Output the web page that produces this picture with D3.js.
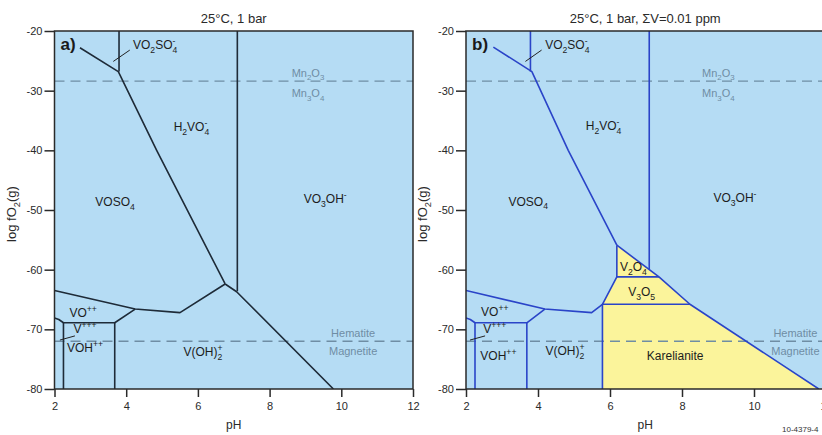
<!DOCTYPE html>
<html>
<head>
<meta charset="utf-8">
<script src="https://cdn.jsdelivr.net/npm/d3@7"></script>
<style>
  html, body { margin: 0; padding: 0; background: #fff; }
  svg { display: block; font-family: "Liberation Sans", Arial, sans-serif; }
</style>
</head>
<body>
<svg id="chart" width="822" height="435"></svg>
<script>
// Axis ranges and ticks
const phDomain = [2, 12];
const fo2Domain = [-80, -20];
const phTicks = [2, 4, 6, 8, 10, 12];
const fo2Ticks = [-20, -30, -40, -50, -60, -70, -80];

// Oxygen buffers (log fO2) drawn as dashed reference lines
const bufferMnO = -28.4;    // Mn2O3 / Mn3O4
const bufferHM = -72;       // Hematite / Magnetite

// Panel a) field boundaries, [pH, log fO2]
const boundariesA = [
  [[2.71, -22.8], [3.78, -26.8], [4.85, -40], [6.76, -62.4]],
  [[3.8, -20], [3.8, -26.8]],
  [[7.1, -20], [7.1, -63.6]],
  [[6.76, -62.4], [7.08, -63.7], [9.78, -80]],
  [[2, -63.5], [4.25, -66.6], [5.5, -67.2], [6.76, -62.4]],
  [[4.25, -66.6], [3.68, -68.9], [2.25, -68.9], [2.12, -68.35], [2, -68.1]],
  [[2.25, -68.9], [2.25, -80]],
  [[3.68, -68.9], [3.68, -80]]
];

// Panel b) field boundaries, sum V = 0.01 ppm
const boundariesB = [
  [[2.76, -22.7], [3.83, -26.8], [4.84, -40], [6.19, -55.9]],
  [[3.79, -20], [3.79, -26.8]],
  [[7.09, -20], [7.09, -60]],
  [[6.19, -55.9], [7.36, -61.2], [8.22, -65.8], [11.8, -80]],
  [[6.19, -55.9], [6.19, -61.2], [5.79, -65.8], [5.79, -80]],
  [[6.19, -61.2], [7.36, -61.2]],
  [[5.79, -65.8], [8.22, -65.8]],
  [[2, -63.5], [4.19, -66.6], [5.49, -67.2], [5.79, -65.8]],
  [[4.19, -66.6], [3.69, -68.9], [2.25, -68.9], [2.12, -68.35], [2, -68.1]],
  [[2.25, -68.9], [2.25, -80]],
  [[3.69, -68.9], [3.69, -80]]
];

// Stability field of solid vanadium oxides in panel b)
const solidFieldB = [
  [6.19, -55.9], [7.36, -61.2], [8.22, -65.8], [11.8, -80],
  [5.79, -80], [5.79, -65.8], [6.19, -61.2]
];

// Species labels: markup, pH, log fO2  ({x} subscript, {^x} superscript, {x|y} stacked)
const fieldLabelsA = [
  ["VO{2}SO{4|-}", 4.19, -22.3, "start"],
  ["H{2}VO{4|-}", 5.82, -36.1],
  ["VOSO{4}", 3.69, -48.7],
  ["VO{3}OH{^-}", 9.55, -48.2],
  ["VO{^++}", 2.8, -67.2],
  ["V{^+++}", 2.85, -70.0],
  ["VOH{^++}", 2.85, -73.2],
  ["V(OH){2|+}", 6.14, -73.8]
];
const fieldLabelsB = [
  ["VO{2}SO{4|-}", 4.2, -22.3, "start"],
  ["H{2}VO{4|-}", 5.82, -36.0],
  ["VOSO{4}", 3.73, -48.6],
  ["VO{3}OH{^-}", 9.47, -48.0],
  ["V{2}O{4}", 6.65, -59.6],
  ["V{3}O{5}", 6.88, -63.7],
  ["Karelianite", 7.81, -74.4],
  ["VO{^++}", 2.8, -67.1],
  ["V{^+++}", 2.8, -70.0],
  ["VOH{^++}", 2.9, -74.5],
  ["V(OH){2|+}", 4.75, -73.7]
];
const bufferLabelsA = [
  ["Mn{2}O{3}", 9.07, -27.0], ["Mn{3}O{4}", 9.07, -30.4],
  ["Hematite", 10.33, -70.6], ["Magnetite", 10.33, -73.6]
];
const bufferLabelsB = [
  ["Mn{2}O{3}", 9.01, -27.0], ["Mn{3}O{4}", 9.01, -30.4],
  ["Hematite", 11.15, -70.6], ["Magnetite", 11.15, -73.6]
];

// Short leader lines tying small labels to their fields
const leadersA = [
  [[3.64, -25.1], [4.1, -23.2]],
  [[2.15, -71.8], [2.57, -71.1]]
];
const leadersB = [
  [[3.65, -25.1], [4.1, -23.2]],
  [[2.11, -71.8], [2.53, -71.1]]
];

const titles = ["25°C, 1 bar", "25°C, 1 bar,  ΣV=0.01 ppm"];
const panelTags = ["a)", "b)"];

const svg = d3.select("#chart");
const FIELD_BLUE = "#b5dcf4";
const SOLID_YELLOW = "#fbf49b";
const BUFFER_COL = "#6f8da4";

// Writes chemical-formula markup into a <text> element
function formula(text, markup, size) {
  const re = /\{([^}]*)\}|([^{]+)/g;
  let cur = 0, pendingDx = 0, m;
  const sub = 0.32 * size, sup = -0.42 * size, small = 0.72 * size;
  while ((m = re.exec(markup))) {
    if (m[2] !== undefined) {
      text.append("tspan").attr("dy", -cur).attr("dx", pendingDx).text(m[2]);
      cur = 0; pendingDx = 0;
    } else {
      const body = m[1];
      if (body.startsWith("^")) {
        text.append("tspan").attr("font-size", small).attr("dy", sup - cur)
          .attr("dx", pendingDx).text(body.slice(1));
        cur = sup; pendingDx = 0;
      } else if (body.includes("|")) {
        const [lo, hi] = body.split("|");
        const a = text.append("tspan").attr("font-size", small).attr("dy", sub - cur)
          .attr("dx", pendingDx).text(lo);
        cur = sub;
        const wa = a.node().getComputedTextLength();
        const b = text.append("tspan").attr("font-size", small).attr("dy", sup - cur)
          .attr("dx", -wa).text(hi);
        cur = sup;
        const wb = b.node().getComputedTextLength();
        pendingDx = Math.max(0, wa - wb);
      } else {
        text.append("tspan").attr("font-size", small).attr("dy", sub - cur)
          .attr("dx", pendingDx).text(body);
        cur = sub; pendingDx = 0;
      }
    }
  }
}

function drawPanel(i, left, right, boundaries, fieldLabels, bufferLabels, leaders, lineColor, solid) {
  const top = 31, bottom = 389;
  const x = d3.scaleLinear().domain(phDomain).range([left, right]);
  const y = d3.scaleLinear().domain(fo2Domain).range([bottom, top]);
  const g = svg.append("g");
  const clipId = "plotclip" + i;
  svg.append("clipPath").attr("id", clipId).append("rect")
    .attr("x", left).attr("y", top).attr("width", right - left).attr("height", bottom - top);

  g.append("rect").attr("x", left).attr("y", top)
    .attr("width", right - left).attr("height", bottom - top).attr("fill", FIELD_BLUE);

  const plot = g.append("g").attr("clip-path", `url(#${clipId})`);
  const line = d3.line().x(d => x(d[0])).y(d => y(d[1]));

  if (solid) {
    plot.append("path").attr("d", line(solid) + "Z").attr("fill", SOLID_YELLOW);
  }

  // buffer dashed lines
  [bufferMnO, bufferHM].forEach(v => {
    plot.append("line").attr("x1", left).attr("x2", right)
      .attr("y1", y(v)).attr("y2", y(v))
      .attr("stroke", BUFFER_COL).attr("stroke-width", 1.3)
      .attr("stroke-dasharray", "10,6");
  });

  boundaries.forEach(b => {
    plot.append("path").attr("d", line(b)).attr("fill", "none")
      .attr("stroke", lineColor).attr("stroke-width", 1.6)
      .attr("stroke-linejoin", "round");
  });
  leaders.forEach(b => {
    plot.append("path").attr("d", line(b)).attr("fill", "none")
      .attr("stroke", "#222").attr("stroke-width", 1);
  });

  fieldLabels.forEach(([mk, ph, v, anchor]) => {
    const t = plot.append("text").attr("x", x(ph)).attr("y", y(v) + 4)
      .attr("text-anchor", anchor || "middle").attr("font-size", 12).attr("fill", "#1d1d1d");
    formula(t, mk, 12);
  });
  bufferLabels.forEach(([mk, ph, v]) => {
    const t = plot.append("text").attr("x", x(ph)).attr("y", y(v) + 4)
      .attr("text-anchor", "middle").attr("font-size", 11).attr("fill", BUFFER_COL);
    formula(t, mk, 11);
  });

  // frame
  g.append("rect").attr("x", left).attr("y", top)
    .attr("width", right - left).attr("height", bottom - top)
    .attr("fill", "none").attr("stroke", "#2a2a2a").attr("stroke-width", 1.5);

  // axes
  const xAxis = g.append("g").attr("transform", `translate(0,${bottom})`)
    .call(d3.axisBottom(x).tickValues(phTicks).tickSize(8).tickPadding(5).tickFormat(d3.format("d")));
  const yAxis = g.append("g").attr("transform", `translate(${left},0)`)
    .call(d3.axisLeft(y).tickValues(fo2Ticks).tickSize(10).tickPadding(2).tickFormat(d => String(d).replace("−", "-")));
  [xAxis, yAxis].forEach(a => {
    a.select(".domain").remove();
    a.selectAll(".tick line").attr("stroke", "#2a2a2a").attr("stroke-width", 1.5);
    a.selectAll(".tick text").attr("font-size", 11).attr("fill", "#2a2a2a")
      .attr("font-family", "'Liberation Sans', Arial, sans-serif");
  });

  // axis titles
  const mid = (left + 413 - 54.5 + left) / 2;
  g.append("text").attr("x", mid).attr("y", 429).attr("text-anchor", "middle")
    .attr("font-size", 12).attr("fill", "#2a2a2a").text("pH");
  const yl = g.append("text").attr("transform", `translate(${left - 39},${(top + bottom) / 2 + 4}) rotate(-90)`)
    .attr("text-anchor", "middle").attr("font-size", 13).attr("fill", "#2a2a2a");
  formula(yl, "log fO{2}(g)", 13);

  g.append("text").attr("x", mid).attr("y", 23).attr("text-anchor", "middle")
    .attr("font-size", 13).attr("fill", "#2a2a2a").text(titles[i]);

  g.append("text").attr("x", left + 6).attr("y", 50)
    .attr("font-size", 17).attr("font-weight", "bold").attr("fill", "#1a1a1a").text(panelTags[i]);
}

drawPanel(0, 54.5, 413, boundariesA, fieldLabelsA, bufferLabelsA, leadersA, "#1e2b38", null);
drawPanel(1, 466, 826, boundariesB, fieldLabelsB, bufferLabelsB, leadersB, "#2a44c8", solidFieldB);

svg.append("text").attr("x", 782).attr("y", 432).attr("font-size", 8).attr("fill", "#333").text("10-4379-4");
</script>
</body>
</html>
